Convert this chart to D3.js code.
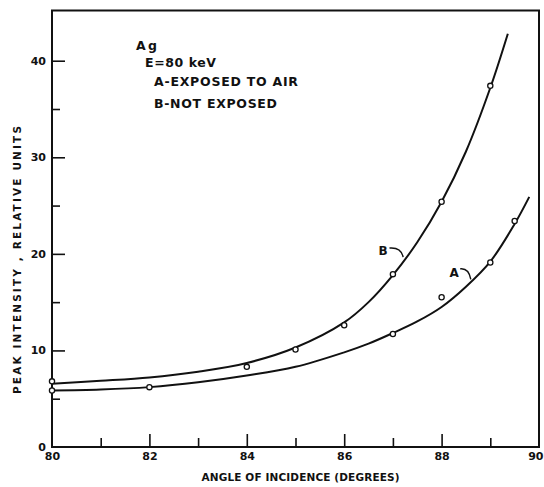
<!DOCTYPE html>
<html><head><meta charset="utf-8">
<script src="https://cdn.jsdelivr.net/npm/d3@7"></script>
<style>
html,body{margin:0;padding:0;background:#fff;}
svg{display:block;}
text{font-family:"DejaVu Sans","Liberation Sans",sans-serif;fill:#111;}
</style></head>
<body>
<svg id="chart" width="544" height="487"></svg>
<script>
// ---- data ----
const xTickLabels = [80, 82, 84, 86, 88, 90];
const xMinorTicks = [81, 83, 85, 87, 89];
const xMajorTicks = [82, 84, 86, 88];
const yTickLabels = [0, 10, 20, 30, 40];
const yMinorTicks = [5, 15, 25, 35];
const yMajorTicks = [10, 20, 30, 40];

// measured points
const pointsB = [[80, 6.8], [84, 8.3], [85, 10.1], [86, 12.6], [87, 17.9], [88, 25.4], [89, 37.4]];
const pointsA = [[80, 5.85], [82, 6.2], [87, 11.7], [88, 15.5], [89, 19.1], [89.5, 23.4]];

// fitted curves
const curveB = [[80, 6.55], [81, 6.85], [82, 7.2], [83, 7.8], [84, 8.7], [85, 10.3], [86, 12.9], [86.5, 15.0], [87, 17.8], [87.5, 21.2], [88, 25.4], [88.5, 30.6], [89, 37.2], [89.36, 42.8]];
const curveA = [[80, 5.85], [81, 5.95], [82, 6.2], [83, 6.7], [84, 7.4], [85, 8.3], [86, 9.8], [86.5, 10.7], [87, 11.8], [87.5, 13.0], [88, 14.5], [88.5, 16.6], [89, 19.2], [89.5, 23.1], [89.8, 25.9]];

const legendLines = ["Ag", "E=80 keV", "A-EXPOSED TO AIR", "B-NOT EXPOSED"];
const xTitle = "ANGLE OF INCIDENCE (DEGREES)";
const yTitle = "PEAK INTENSITY , RELATIVE UNITS";
const curveLabels = [
  {text: "B", at: [86.80, 20.3], from: [86.93, 20.6], to: [87.21, 19.67]},
  {text: "A", at: [88.26, 18.1], from: [88.38, 18.45], to: [88.6, 17.35]}
];

// ---- layout ----
const svg = d3.select("#chart");
const L = 52, R = 539, T = 10.5, B = 447;
const x = d3.scaleLinear().domain([80, 90]).range([L, R]);
const y = d3.scaleLinear().domain([0, 45.2]).range([B, T]);

// frame
svg.append("rect").attr("x", L).attr("y", T).attr("width", R - L).attr("height", B - T)
  .attr("fill", "none").attr("stroke", "#111").attr("stroke-width", 2);

// x axis major ticks + labels
const gx = svg.append("g").attr("transform", `translate(0,${B})`);
gx.call(d3.axisBottom(x).tickValues(xMajorTicks).tickSizeInner(-13).tickSizeOuter(0).tickFormat(""));
gx.select(".domain").remove();
gx.selectAll("line").attr("stroke", "#111").attr("stroke-width", 1.6);
const gx2 = svg.append("g").attr("transform", `translate(0,${B})`);
gx2.call(d3.axisBottom(x).tickValues(xMinorTicks).tickSizeInner(-9).tickSizeOuter(0).tickFormat(""));
gx2.select(".domain").remove();
gx2.selectAll("line").attr("stroke", "#111").attr("stroke-width", 1.6);
const gxl = svg.append("g").attr("transform", `translate(0,${B})`);
gxl.call(d3.axisBottom(x).tickValues(xTickLabels).tickSize(0).tickPadding(5).tickFormat(d3.format("d")));
gxl.select(".domain").remove();
gxl.selectAll("text").attr("font-size", 11).attr("font-weight", "bold").attr("fill", "#111")
  .attr("font-family", "DejaVu Sans, sans-serif")
  .attr("text-anchor", d => d === 90 ? "end" : "middle")
  .attr("dx", d => d === 90 ? 4 : 0);

// y axis
const gy = svg.append("g").attr("transform", `translate(${L},0)`);
gy.call(d3.axisLeft(y).tickValues(yMajorTicks).tickSizeInner(-13).tickSizeOuter(0).tickFormat(""));
gy.select(".domain").remove();
gy.selectAll("line").attr("stroke", "#111").attr("stroke-width", 1.6);
const gy2 = svg.append("g").attr("transform", `translate(${L},0)`);
gy2.call(d3.axisLeft(y).tickValues(yMinorTicks).tickSizeInner(-8).tickSizeOuter(0).tickFormat(""));
gy2.select(".domain").remove();
gy2.selectAll("line").attr("stroke", "#111").attr("stroke-width", 1.6);
const gyl = svg.append("g").attr("transform", `translate(${L},0)`);
gyl.call(d3.axisLeft(y).tickValues(yTickLabels).tickSize(0).tickPadding(6).tickFormat(d3.format("d")));
gyl.select(".domain").remove();
gyl.selectAll("text").attr("font-size", 11).attr("font-weight", "bold").attr("fill", "#111")
  .attr("font-family", "DejaVu Sans, sans-serif");

// axis titles
svg.append("text").attr("x", (x(80) + x(90)) / 2 + 5).attr("y", 481)
  .attr("text-anchor", "middle").attr("font-size", 10.5).attr("font-weight", "bold")
  .attr("textLength", 198).attr("lengthAdjust", "spacing").text(xTitle);
svg.append("text").attr("transform", `translate(21,${260}) rotate(-90)`)
  .attr("text-anchor", "middle").attr("font-size", 10.5).attr("font-weight", "bold")
  .attr("textLength", 268).attr("lengthAdjust", "spacing").text(yTitle);

// curves
const line = d3.line().x(d => x(d[0])).y(d => y(d[1])).curve(d3.curveCatmullRom.alpha(0.5));
[curveA, curveB].forEach(c => {
  svg.append("path").datum(c).attr("d", line).attr("fill", "none")
    .attr("stroke", "#111").attr("stroke-width", 2);
});

// points
[pointsA, pointsB].forEach(ps => {
  svg.append("g").selectAll("circle").data(ps).join("circle")
    .attr("cx", d => x(d[0])).attr("cy", d => y(d[1])).attr("r", 2.6)
    .attr("fill", "#fff").attr("stroke", "#111").attr("stroke-width", 1.3);
});

// curve labels with leaders
curveLabels.forEach(c => {
  svg.append("text").attr("x", x(c.at[0])).attr("y", y(c.at[1]) + 4.5)
    .attr("text-anchor", "middle").attr("font-size", 12).attr("font-weight", "bold").text(c.text);
  const x0 = x(c.from[0]), y0 = y(c.from[1]), x1 = x(c.to[0]), y1 = y(c.to[1]);
  svg.append("path").attr("d", `M${x0},${y0} Q${x1 - 2},${y0 - 1} ${x1},${y1}`)
    .attr("fill", "none").attr("stroke", "#111").attr("stroke-width", 1.4);
});

// legend text block
const legendX = [136, 145, 154, 154];
const legendY = [50, 67, 86, 108];
const legendW = [21, 71, 144, 123];
legendLines.forEach((t, i) => {
  svg.append("text").attr("x", legendX[i]).attr("y", legendY[i])
    .attr("font-size", 12.5).attr("font-weight", "bold")
    .attr("textLength", legendW[i]).attr("lengthAdjust", "spacing").text(t);
});
</script>
</body></html>
